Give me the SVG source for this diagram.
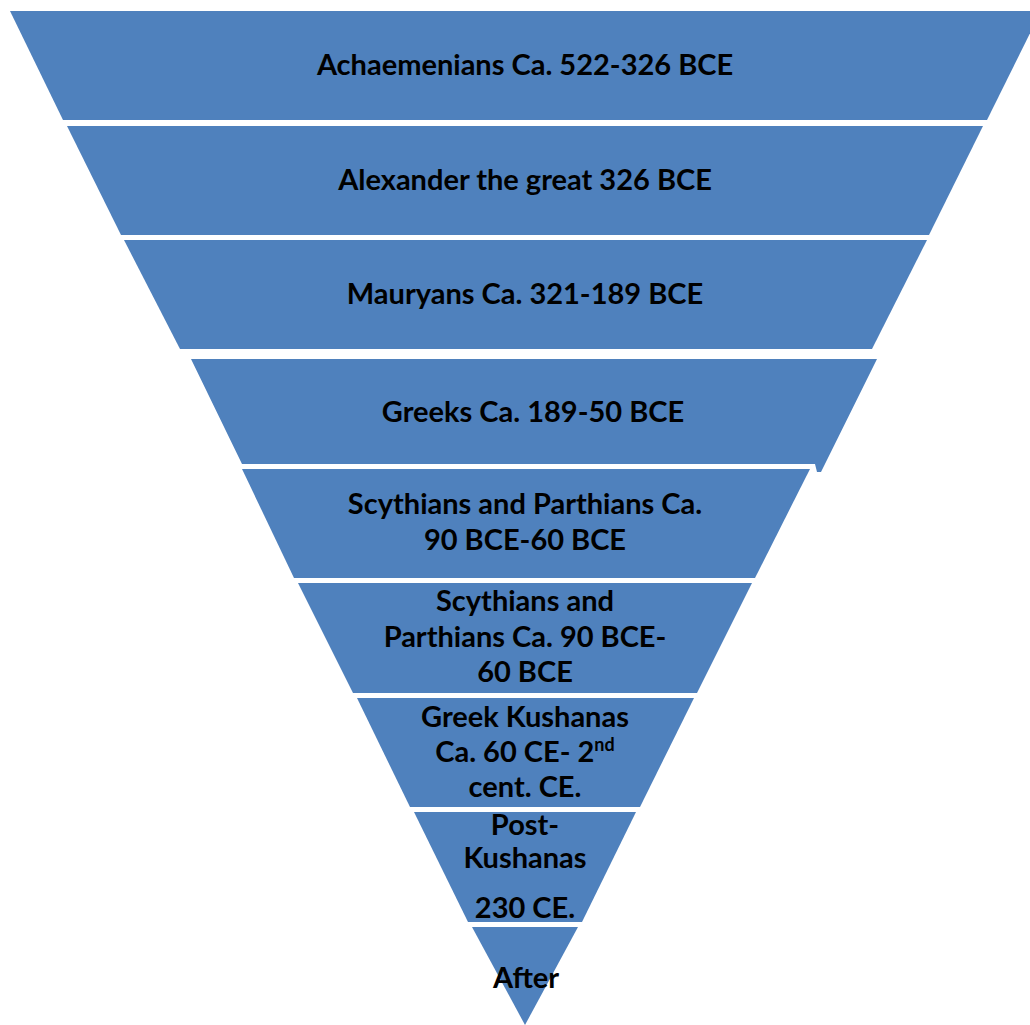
<svg xmlns="http://www.w3.org/2000/svg" width="1030" height="1025" viewBox="0 0 1030 1025">
  <style>
    .band { fill: #4F81BD; }
    .label { font-family: Lato, "Open Sans", "Liberation Sans", sans-serif; font-weight: 700; font-size: 29px; fill: #000; text-anchor: middle; }
    .sup { font-size: 18px; }
  </style>
  <rect width="1030" height="1025" fill="#FFFFFF"/>

  <!-- Inverted pyramid, one band per period, widest at the top -->
  <g id="band-achaemenians">
    <polygon class="band" points="10,11 1041,11 987,120 63,120"/>
    <text class="label" x="525" y="75">Achaemenians Ca. 522-326 BCE</text>
  </g>

  <g id="band-alexander">
    <polygon class="band" points="67,126 983,126 929,235 121,235"/>
    <text class="label" x="525" y="190">Alexander the great 326 BCE</text>
  </g>

  <g id="band-mauryans">
    <polygon class="band" points="124,240 927,240 872,349 180,349"/>
    <text class="label" x="525" y="304">Mauryans Ca. 321-189 BCE</text>
  </g>

  <g id="band-greeks">
    <polygon class="band" points="191,359 877,359 821,472 817,472 815,464 242,464"/>
    <text class="label" x="533" y="422">Greeks Ca. 189-50 BCE</text>
  </g>

  <g id="band-scythians-1">
    <polygon class="band" points="242,469 810,469 755,578 294,578"/>
    <text class="label" x="525" y="514">Scythians and Parthians Ca.</text>
    <text class="label" x="525" y="550">90 BCE-60 BCE</text>
  </g>

  <g id="band-scythians-2">
    <polygon class="band" points="298,583 752,583 697,693 353,693"/>
    <text class="label" x="525" y="611">Scythians and</text>
    <text class="label" x="525" y="647">Parthians Ca. 90 BCE-</text>
    <text class="label" x="525" y="682">60 BCE</text>
  </g>

  <g id="band-greek-kushanas">
    <polygon class="band" points="357,698 694,698 640,807 410,807"/>
    <text class="label" x="525" y="727">Greek Kushanas</text>
    <text class="label" x="525" y="762">Ca. 60 CE- 2<tspan class="sup" dy="-11">nd</tspan></text>
    <text class="label" x="525" y="797">cent. CE.</text>
  </g>

  <g id="band-post-kushanas">
    <polygon class="band" points="414,812 636,812 582,922 468,922"/>
    <text class="label" x="525" y="835">Post-</text>
    <text class="label" x="525" y="868">Kushanas</text>
    <text class="label" x="525" y="918">230 CE.</text>
  </g>

  <g id="band-after">
    <polygon class="band" points="472,927 578,927 525,1025"/>
    <text class="label" x="526" y="988">After</text>
  </g>

  <!-- no connectors in this figure -->
  <g id="connectors"/>
</svg>
